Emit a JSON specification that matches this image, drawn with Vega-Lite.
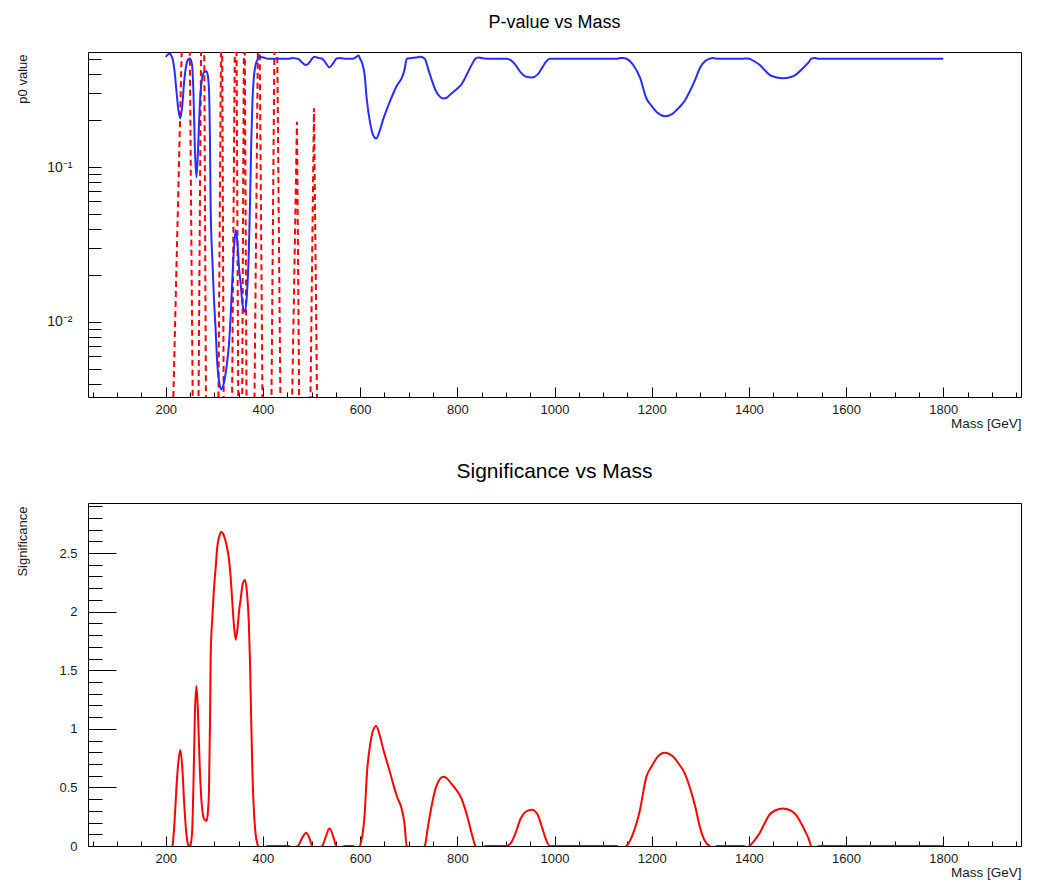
{
  "$schema": "https://vega.github.io/schema/vega-lite/v6.json",
  "background": "white",
  "padding": {"left": 15, "top": 13, "right": 32, "bottom": 10},
  "bounds": "flush",
  "spacing": 106,
  "config": {
    "font": "Liberation Sans",
    "view": {"stroke": "black", "strokeWidth": 1},
    "axis": {
      "domain": false, "grid": false, "tickColor": "black", "tickWidth": 1,
      "labelColor": "#1a1a1a", "titleColor": "#1a1a1a", "labelFont": "Liberation Sans", "titleFont": "Liberation Sans",
      "labelFontSize": 13, "titleFontSize": 13, "titleFontWeight": "normal", "labelOverlap": false
    },
    "title": {"font": "Liberation Sans", "fontWeight": "normal", "color": "black", "anchor": "middle"}
  },
  "datasets": {
    "obs": [
      {"m": 200, "p": 0.515, "z": -0.038}, {"m": 205, "p": 0.535, "z": -0.088}, {"m": 209, "p": 0.54, "z": -0.1},
      {"m": 212, "p": 0.52, "z": -0.05}, {"m": 214, "p": 0.5, "z": 0}, {"m": 218, "p": 0.42, "z": 0.2},
      {"m": 222, "p": 0.31, "z": 0.5}, {"m": 226, "p": 0.235, "z": 0.72}, {"m": 230, "p": 0.206, "z": 0.82},
      {"m": 234, "p": 0.25, "z": 0.67}, {"m": 238, "p": 0.36, "z": 0.36}, {"m": 242, "p": 0.45, "z": 0.125},
      {"m": 246, "p": 0.495, "z": 0.0125}, {"m": 250, "p": 0.502, "z": -0.005}, {"m": 254, "p": 0.46, "z": 0.1},
      {"m": 257, "p": 0.3, "z": 0.52}, {"m": 260, "p": 0.13, "z": 1.13}, {"m": 263, "p": 0.086, "z": 1.365},
      {"m": 266, "p": 0.12, "z": 1.17}, {"m": 270, "p": 0.25, "z": 0.67}, {"m": 274, "p": 0.36, "z": 0.36},
      {"m": 279, "p": 0.41, "z": 0.23}, {"m": 284, "p": 0.415, "z": 0.213}, {"m": 287, "p": 0.38, "z": 0.305},
      {"m": 289, "p": 0.316, "z": 0.48}, {"m": 291, "p": 0.15, "z": 1.04}, {"m": 292.5, "p": 0.0526, "z": 1.62},
      {"m": 296, "p": 0.025, "z": 1.96}, {"m": 299, "p": 0.0146, "z": 2.18}, {"m": 303, "p": 0.0085, "z": 2.39},
      {"m": 306, "p": 0.0054, "z": 2.55}, {"m": 310, "p": 0.0041, "z": 2.64}, {"m": 314, "p": 0.00368, "z": 2.68},
      {"m": 318, "p": 0.00385, "z": 2.665}, {"m": 322, "p": 0.0044, "z": 2.62}, {"m": 326, "p": 0.0054, "z": 2.55},
      {"m": 330, "p": 0.00714, "z": 2.45}, {"m": 334, "p": 0.0116, "z": 2.27}, {"m": 337, "p": 0.0188, "z": 2.08},
      {"m": 340, "p": 0.0287, "z": 1.9}, {"m": 344, "p": 0.0392, "z": 1.76}, {"m": 348, "p": 0.031, "z": 1.87},
      {"m": 351, "p": 0.022, "z": 2.01}, {"m": 354, "p": 0.0179, "z": 2.1}, {"m": 358, "p": 0.013, "z": 2.23},
      {"m": 363, "p": 0.0116, "z": 2.27}, {"m": 367, "p": 0.015, "z": 2.17}, {"m": 371, "p": 0.0287, "z": 1.9},
      {"m": 373.5, "p": 0.06, "z": 1.55}, {"m": 376, "p": 0.147, "z": 1.05}, {"m": 378.5, "p": 0.27, "z": 0.61},
      {"m": 381, "p": 0.369, "z": 0.335}, {"m": 385, "p": 0.46, "z": 0.1}, {"m": 389, "p": 0.495, "z": 0.0125},
      {"m": 392, "p": 0.515, "z": -0.038}, {"m": 400, "p": 0.51, "z": -0.025}, {"m": 405, "p": 0.505, "z": -0.0125},
      {"m": 409, "p": 0.5, "z": 0}, {"m": 430, "p": 0.5, "z": 0}, {"m": 453, "p": 0.5, "z": 0},
      {"m": 460, "p": 0.505, "z": -0.0125}, {"m": 467, "p": 0.503, "z": -0.008}, {"m": 472, "p": 0.5, "z": 0},
      {"m": 480, "p": 0.475, "z": 0.063}, {"m": 489, "p": 0.455, "z": 0.113}, {"m": 497, "p": 0.48, "z": 0.05},
      {"m": 501, "p": 0.5, "z": 0}, {"m": 506, "p": 0.515, "z": -0.038}, {"m": 511, "p": 0.51, "z": -0.025},
      {"m": 516, "p": 0.505, "z": -0.0125}, {"m": 522, "p": 0.5, "z": 0}, {"m": 529, "p": 0.47, "z": 0.075},
      {"m": 537, "p": 0.44, "z": 0.151}, {"m": 545, "p": 0.47, "z": 0.075}, {"m": 551, "p": 0.5, "z": 0},
      {"m": 558, "p": 0.505, "z": -0.0125}, {"m": 565, "p": 0.502, "z": -0.005}, {"m": 570, "p": 0.5, "z": 0},
      {"m": 585, "p": 0.5, "z": 0}, {"m": 591, "p": 0.51, "z": -0.025}, {"m": 597, "p": 0.525, "z": -0.063},
      {"m": 600, "p": 0.5, "z": 0}, {"m": 605, "p": 0.46, "z": 0.1}, {"m": 609, "p": 0.4, "z": 0.25},
      {"m": 614, "p": 0.268, "z": 0.62}, {"m": 621, "p": 0.19, "z": 0.876}, {"m": 627, "p": 0.16, "z": 0.99},
      {"m": 633, "p": 0.153, "z": 1.024}, {"m": 640, "p": 0.17, "z": 0.95}, {"m": 648, "p": 0.206, "z": 0.82},
      {"m": 655, "p": 0.236, "z": 0.72}, {"m": 662, "p": 0.268, "z": 0.62}, {"m": 669, "p": 0.303, "z": 0.515},
      {"m": 676, "p": 0.337, "z": 0.42}, {"m": 686, "p": 0.378, "z": 0.31}, {"m": 691, "p": 0.42, "z": 0.2},
      {"m": 696, "p": 0.5, "z": 0}, {"m": 705, "p": 0.505, "z": -0.0125}, {"m": 715, "p": 0.51, "z": -0.025},
      {"m": 724, "p": 0.515, "z": -0.038}, {"m": 733, "p": 0.5, "z": 0}, {"m": 740, "p": 0.43, "z": 0.176},
      {"m": 748, "p": 0.36, "z": 0.36}, {"m": 756, "p": 0.31, "z": 0.5}, {"m": 764, "p": 0.285, "z": 0.57},
      {"m": 771, "p": 0.277, "z": 0.59}, {"m": 778, "p": 0.28, "z": 0.58}, {"m": 786, "p": 0.295, "z": 0.54},
      {"m": 794, "p": 0.31, "z": 0.5}, {"m": 802, "p": 0.325, "z": 0.455}, {"m": 808, "p": 0.34, "z": 0.41},
      {"m": 815, "p": 0.37, "z": 0.33}, {"m": 822, "p": 0.41, "z": 0.23}, {"m": 830, "p": 0.46, "z": 0.1},
      {"m": 837, "p": 0.5, "z": 0}, {"m": 843, "p": 0.51, "z": -0.025}, {"m": 850, "p": 0.505, "z": -0.0125},
      {"m": 860, "p": 0.5, "z": 0}, {"m": 900, "p": 0.5, "z": 0}, {"m": 910, "p": 0.49, "z": 0.025},
      {"m": 920, "p": 0.455, "z": 0.113}, {"m": 930, "p": 0.41, "z": 0.23}, {"m": 940, "p": 0.385, "z": 0.29},
      {"m": 953, "p": 0.378, "z": 0.31}, {"m": 965, "p": 0.395, "z": 0.27}, {"m": 975, "p": 0.44, "z": 0.15},
      {"m": 983, "p": 0.48, "z": 0.05}, {"m": 990, "p": 0.5, "z": 0}, {"m": 1050, "p": 0.5, "z": 0},
      {"m": 1128, "p": 0.5, "z": 0}, {"m": 1135, "p": 0.505, "z": -0.0125}, {"m": 1141, "p": 0.505, "z": -0.0125},
      {"m": 1148, "p": 0.5, "z": 0}, {"m": 1162, "p": 0.456, "z": 0.11}, {"m": 1176, "p": 0.378, "z": 0.31},
      {"m": 1189, "p": 0.278, "z": 0.59}, {"m": 1200, "p": 0.248, "z": 0.68}, {"m": 1212, "p": 0.224, "z": 0.76},
      {"m": 1227, "p": 0.213, "z": 0.795}, {"m": 1242, "p": 0.22, "z": 0.77}, {"m": 1256, "p": 0.242, "z": 0.7},
      {"m": 1268, "p": 0.268, "z": 0.62}, {"m": 1278, "p": 0.306, "z": 0.506}, {"m": 1290, "p": 0.37, "z": 0.33},
      {"m": 1299, "p": 0.434, "z": 0.165}, {"m": 1310, "p": 0.484, "z": 0.04}, {"m": 1319, "p": 0.5, "z": 0},
      {"m": 1327, "p": 0.505, "z": -0.0125}, {"m": 1336, "p": 0.5, "z": 0}, {"m": 1388, "p": 0.5, "z": 0},
      {"m": 1395, "p": 0.503, "z": -0.008}, {"m": 1401, "p": 0.5, "z": 0}, {"m": 1410, "p": 0.484, "z": 0.04},
      {"m": 1422, "p": 0.457, "z": 0.108}, {"m": 1432, "p": 0.425, "z": 0.19}, {"m": 1442, "p": 0.395, "z": 0.265},
      {"m": 1455, "p": 0.38, "z": 0.305}, {"m": 1470, "p": 0.3745, "z": 0.32}, {"m": 1485, "p": 0.38, "z": 0.305},
      {"m": 1497, "p": 0.395, "z": 0.265}, {"m": 1508, "p": 0.425, "z": 0.19}, {"m": 1518, "p": 0.457, "z": 0.108},
      {"m": 1524, "p": 0.48, "z": 0.05}, {"m": 1528, "p": 0.5, "z": 0}, {"m": 1536, "p": 0.505, "z": -0.0125},
      {"m": 1545, "p": 0.5, "z": 0}, {"m": 1800, "p": 0.5, "z": 0}
    ],
    "exp": [
      {"m": 200, "p_exp": 0.002}, {"m": 214, "p_exp": 0.002}, {"m": 234, "p_exp": 0.8}, {"m": 249, "p_exp": 0.8},
      {"m": 256, "p_exp": 0.002}, {"m": 267, "p_exp": 0.002}, {"m": 273, "p_exp": 0.8}, {"m": 279, "p_exp": 0.8},
      {"m": 283, "p_exp": 0.002}, {"m": 308, "p_exp": 0.002}, {"m": 314, "p_exp": 0.8}, {"m": 316, "p_exp": 0.8},
      {"m": 319.5, "p_exp": 0.002}, {"m": 336, "p_exp": 0.002}, {"m": 342.5, "p_exp": 0.8}, {"m": 345.5, "p_exp": 0.8},
      {"m": 349.5, "p_exp": 0.002}, {"m": 357, "p_exp": 0.002}, {"m": 361, "p_exp": 0.8}, {"m": 362.5, "p_exp": 0.8},
      {"m": 366.5, "p_exp": 0.002}, {"m": 382, "p_exp": 0.002}, {"m": 390, "p_exp": 0.8}, {"m": 393, "p_exp": 0.8},
      {"m": 399.5, "p_exp": 0.002}, {"m": 417, "p_exp": 0.002}, {"m": 424, "p_exp": 0.8}, {"m": 429, "p_exp": 0.8},
      {"m": 436.5, "p_exp": 0.002}, {"m": 459, "p_exp": 0.002}, {"m": 470, "p_exp": 0.196}, {"m": 475, "p_exp": 0.002},
      {"m": 497, "p_exp": 0.002}, {"m": 505, "p_exp": 0.24}, {"m": 512, "p_exp": 0.002}, {"m": 530, "p_exp": 0.002}
    ]
  },
  "vconcat": [
    {
      "width": 933,
      "height": 345,
      "title": {"text": "P-value vs Mass", "fontSize": 18, "offset": 20},
      "encoding": {
        "x": {"field": "m", "type": "quantitative", "scale": {"domain": [40, 1960], "nice": false, "zero": false},
          "axis": {
            "title": "Mass [GeV]",
            "values": [50,100,150,200,250,300,350,400,450,500,550,600,650,700,750,800,850,900,950,1000,1050,1100,1150,1200,1250,1300,1350,1400,1450,1500,1550,1600,1650,1700,1750,1800,1850,1900,1950],
            "format": "d",
            "labelExpr": "datum.value % 200 === 0 ? datum.label : ''",
            "tickSize": {"condition": {"test": "datum.value % 200 === 0", "value": -10}, "value": -5},
            "labelPadding": 16,
            "titleX": 933, "titleY": 19, "titleAlign": "right", "titleBaseline": "top", "titleFontSize": 13.5
          }}
      },
      "layer": [
        {
          "data": {"name": "exp"},
          "mark": {"type": "line", "color": "#ff0000", "strokeWidth": 2, "strokeDash": [6, 4], "clip": true},
          "encoding": {
            "y": {"field": "p_exp", "type": "quantitative", "scale": {"type": "log", "domain": [0.00328, 0.553], "nice": false},
              "axis": {
                "title": "p0 value",
                "values": [0.004,0.005,0.006,0.007,0.008,0.009,0.01,0.02,0.03,0.04,0.05,0.06,0.07,0.08,0.09,0.1,0.2,0.3,0.4,0.5],
                "labelExpr": "abs(datum.value-0.1)<1e-9 ? '10⁻¹' : (abs(datum.value-0.01)<1e-9 ? '10⁻²' : '')",
                "labelFontSize": 14,
                "tickSize": -13,
                "labelPadding": 29,
                "titleX": -66, "titleY": 2, "titleAngle": 270, "titleAlign": "right", "titleBaseline": "middle"
              }}
          }
        },
        {
          "data": {"name": "obs"},
          "mark": {"type": "line", "color": "#2b2bff", "strokeWidth": 2, "clip": true, "interpolate": "monotone"},
          "encoding": {
            "y": {"field": "p", "type": "quantitative", "scale": {"type": "log", "domain": [0.00328, 0.553], "nice": false}}
          }
        }
      ]
    },
    {
      "width": 933,
      "height": 343,
      "title": {"text": "Significance vs Mass", "fontSize": 21, "offset": 18},
      "data": {"name": "obs"},
      "mark": {"type": "line", "color": "#ff0000", "strokeWidth": 2, "clip": true, "interpolate": "monotone"},
      "encoding": {
        "x": {"field": "m", "type": "quantitative", "scale": {"domain": [40, 1960], "nice": false, "zero": false},
          "axis": {
            "title": "Mass [GeV]",
            "values": [50,100,150,200,250,300,350,400,450,500,550,600,650,700,750,800,850,900,950,1000,1050,1100,1150,1200,1250,1300,1350,1400,1450,1500,1550,1600,1650,1700,1750,1800,1850,1900,1950],
            "format": "d",
            "labelExpr": "datum.value % 200 === 0 ? datum.label : ''",
            "tickSize": {"condition": {"test": "datum.value % 200 === 0", "value": -10}, "value": -5},
            "labelPadding": 16,
            "titleX": 933, "titleY": 19, "titleAlign": "right", "titleBaseline": "top", "titleFontSize": 13.5
          }},
        "y": {"field": "z", "type": "quantitative", "scale": {"domain": [0, 2.927], "nice": false, "zero": false},
          "axis": {
            "title": "Significance",
            "values": [0,0.1,0.2,0.3,0.4,0.5,0.6,0.7,0.8,0.9,1,1.1,1.2,1.3,1.4,1.5,1.6,1.7,1.8,1.9,2,2.1,2.2,2.3,2.4,2.5,2.6,2.7,2.8,2.9],
            "labelExpr": "round(datum.value*10) % 5 === 0 ? format(datum.value, '~g') : ''",
            "tickSize": {"condition": {"test": "round(datum.value*10) % 5 === 0", "value": -28}, "value": -14},
            "labelPadding": 39,
            "titleX": -66, "titleY": 3, "titleAngle": 270, "titleAlign": "right", "titleBaseline": "middle"
          }}
      }
    }
  ]
}
